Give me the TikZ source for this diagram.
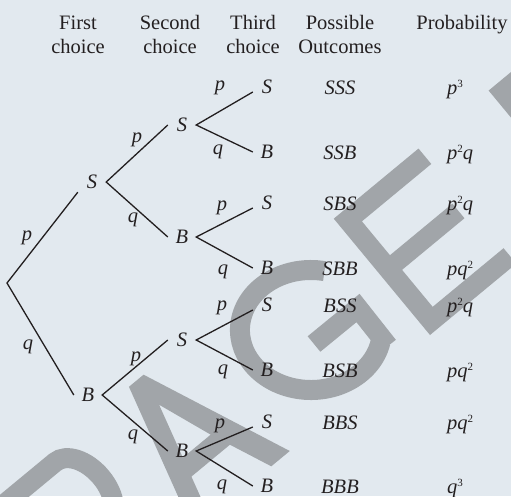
\documentclass[tikz,border=0pt]{standalone}
\usepackage{fontspec}
\setmainfont{Liberation Serif}
\definecolor{bgc}{HTML}{E2E9EF}
\definecolor{wmc}{HTML}{A1A5A9}
\definecolor{ink}{HTML}{231F20}
\newcommand{\txtsize}{\fontsize{20.5}{24}\selectfont}
% small raised exponent
\newcommand{\expo}[1]{\raisebox{6.5pt}{\fontsize{11}{11}\selectfont\upshape #1}}
\begin{document}
\begin{tikzpicture}[x=1pt,y=-1pt,
  every node/.style={text=ink},
  hd/.style={font=\txtsize, align=center, anchor=base, inner sep=0pt},
  lt/.style={font=\txtsize\itshape, inner sep=0pt, minimum width=28pt, minimum height=20pt},
  lab/.style={font=\txtsize\itshape, inner sep=0pt},
  oc/.style={font=\txtsize\itshape, anchor=base, inner sep=0pt},
  pr/.style={font=\txtsize\itshape, anchor=base west, inner sep=0pt},
  br/.style={draw=ink, line width=1.3pt},
  wm/.style={draw=wmc, line width=20pt, line cap=butt, line join=miter}]
\useasboundingbox (0,0) rectangle (511,496);
\fill[bgc] (0,0) rectangle (511,496);

% grey watermark lettering in the background
\begin{scope}
  \clip (0,0) rectangle (511,496);
  \begin{scope}[shift={(430,335)}, rotate=39.6, x=1pt, y=1pt]
    % P
    \draw[wm] (-440,0) -- (-440,141) -- (-370,141)
      arc[start angle=90, end angle=-90, x radius=26, y radius=41] -- (-440,59);
    % A
    \fill[wmc, even odd rule] (-307,0) -- (-265,152) -- (-246,152) -- (-182,0)
      -- (-206,0) -- (-224.1,43) -- (-274.1,43) -- (-286,0) -- cycle
      (-268.6,63) -- (-253.2,119) -- (-232.5,63) -- cycle;
    % E
    \fill[wmc] (0,0) -- (112,0) -- (112,20) -- (20,20) -- (20,68) -- (101,68)
      -- (101,87) -- (20,87) -- (20,131) -- (110,131) -- (110,151) -- (0,151) -- cycle;
    % corner of the following letter
    \fill[wmc] (201,151) -- (260,151) -- (260,131) -- (221,131) -- (221,90)
      -- (201,90) -- cycle;
  \end{scope}
  % G
  \draw[wm] (324.5,271.1) arc[start angle=-79, end angle=-348, x radius=71, y radius=60];
  \draw[wm] (314,344) -- (358,308) -- (388,346);
\end{scope}

% column headings (base anchor sits on the last line)
\node[hd] (h1) at (78,53) {First\\choice};
\node[hd] (h2) at (170,53) {Second\\choice};
\node[hd] (h3) at (253,53) {Third\\choice};
\node[hd] (h4) at (340,53) {Possible\\Outcomes};
\node[hd] (h5) at (462,29) {Probability};

% tree nodes
\coordinate (root) at (7,283);
\node[lt] (s1) at (92,182) {S};
\node[lt] (b1) at (88,395) {B};
\node[lt] (ss) at (182,125) {S};
\node[lt] (sb) at (182,237) {B};
\node[lt] (bs) at (182,340) {S};
\node[lt] (bb) at (182,451) {B};
\node[lt] (sss) at (267,87) {S};
\node[lt] (ssb) at (267,152) {B};
\node[lt] (sbs) at (267,203) {S};
\node[lt] (sbb) at (267,268) {B};
\node[lt] (bss) at (267,305) {S};
\node[lt] (bsb) at (267,370) {B};
\node[lt] (bbs) at (267,422) {S};
\node[lt] (bbb) at (267,486) {B};

% branches
\draw[br] (s1.south west) -- (root) -- (b1.west);
\draw[br] (ss.west) -- (s1.east) -- (sb.west);
\draw[br] (bs.west) -- (b1.east) -- (bb.west);
\draw[br] ([yshift=-5pt]sss.west) -- (ss.east) -- (ssb.west);
\draw[br] ([yshift=-5pt]sbs.west) -- (sb.east) -- (sbb.west);
\draw[br] ([yshift=-5pt]bss.west) -- (bs.east) -- (bsb.west);
\draw[br] ([yshift=-5pt]bbs.west) -- (bb.east) -- (bbb.west);

% branch probabilities
\node[lab] (l01) at (27,238) {p};
\node[lab] (l02) at (28,347) {q};
\node[lab] (l11) at (137,140) {p};
\node[lab] (l12) at (133,220) {q};
\node[lab] (l13) at (136,359) {p};
\node[lab] (l14) at (133,437) {q};
\node[lab] (l21) at (220,88) {p};
\node[lab] (l22) at (218,152) {q};
\node[lab] (l23) at (222,208) {p};
\node[lab] (l24) at (223,272) {q};
\node[lab] (l25) at (222,308) {p};
\node[lab] (l26) at (223,372) {q};
\node[lab] (l27) at (220,426) {p};
\node[lab] (l28) at (222,487) {q};

% outcomes
\node[oc] (o1) at (340,94) {SSS};
\node[oc] (o2) at (340,159) {SSB};
\node[oc] (o3) at (340,210) {SBS};
\node[oc] (o4) at (340,275) {SBB};
\node[oc] (o5) at (340,312) {BSS};
\node[oc] (o6) at (340,377) {BSB};
\node[oc] (o7) at (340,429) {BBS};
\node[oc] (o8) at (340,493) {BBB};

% probabilities of the outcomes
\node[pr] (r1) at (447,94) {p\expo{3}};
\node[pr] (r2) at (447,159) {p\expo{2}q};
\node[pr] (r3) at (447,210) {p\expo{2}q};
\node[pr] (r4) at (447,275) {pq\expo{2}};
\node[pr] (r5) at (447,312) {p\expo{2}q};
\node[pr] (r6) at (447,377) {pq\expo{2}};
\node[pr] (r7) at (447,429) {pq\expo{2}};
\node[pr] (r8) at (447,493) {q\expo{3}};
\end{tikzpicture}
\end{document}
